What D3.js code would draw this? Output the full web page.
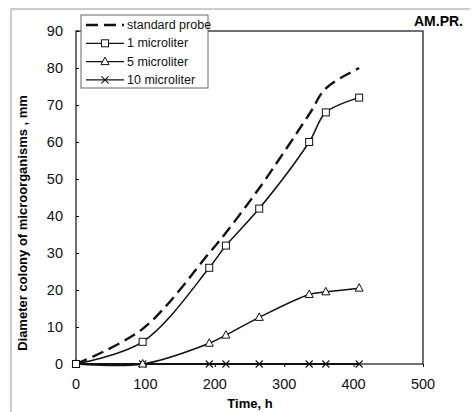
<!DOCTYPE html>
<html>
<head>
  <style>
    body { margin: 0; background: #fff; }
    svg text { font-family: "Liberation Sans", Arial, sans-serif; }
  </style>
</head>
<body>
  <script src="https://d3js.org/d3.v7.min.js"></script>
  <script>
// data
var hours = [0, 96, 192, 216, 264, 336, 360, 408];
var standardProbe = [0, 9.5, 30, 35.5, 47.5, 67.5, 74.5, 80];
var oneMicro = [0, 6, 26, 32, 42, 60, 68, 72];
var fiveMicro = [0, 0, 5.6, 7.8, 12.6, 18.8, 19.5, 20.5];
var tenMicro = [0, 0, 0, 0, 0, 0, 0, 0];
var xTicks = [0, 100, 200, 300, 400, 500];
var yTicks = [0, 10, 20, 30, 40, 50, 60, 70, 80, 90];
var seriesNames = ["standard probe", "1 microliter", "5 microliter", "10 microliter"];

var svg = d3.select("body")
  .append("svg")
  .attr("width", 473)
  .attr("height", 412);

// faint outer frame from the scan
svg.append("path")
  .attr("d", "M11,412 L11,9 L470,9")
  .attr("fill", "none")
  .attr("stroke", "#999")
  .attr("stroke-width", 1);

var x = d3.scaleLinear().domain([0, 500]).range([76, 423]);
var y = d3.scaleLinear().domain([0, 90]).range([364, 31]);

// plot frame
svg.append("rect")
  .attr("x", x(0))
  .attr("y", y(90))
  .attr("width", x(500) - x(0))
  .attr("height", y(0) - y(90))
  .attr("fill", "none")
  .attr("stroke", "#111")
  .attr("stroke-width", 1.2);

// axes
var yAxis = svg.append("g")
  .attr("transform", "translate(" + x(0) + ",0)")
  .call(d3.axisRight(y).tickValues(yTicks).tickSize(3).tickFormat(""));
yAxis.select(".domain").remove();

svg.selectAll(".ylab")
  .data(yTicks)
  .enter()
  .append("text")
  .attr("x", 63)
  .attr("y", function(d) { return y(d) + 5; })
  .attr("text-anchor", "end")
  .attr("font-size", 14.5)
  .attr("fill", "#111")
  .text(function(d) { return d; });

var xAxis = svg.append("g")
  .attr("transform", "translate(0," + y(0) + ")")
  .call(d3.axisBottom(x).tickValues(xTicks).tickSize(3).tickFormat(""));
xAxis.select(".domain").remove();

svg.selectAll(".xlab")
  .data(xTicks)
  .enter()
  .append("text")
  .attr("x", function(d) { return x(d); })
  .attr("y", 389)
  .attr("text-anchor", "middle")
  .attr("font-size", 14.5)
  .attr("fill", "#111")
  .text(function(d) { return d; });

// axis titles
svg.append("text")
  .attr("x", 250)
  .attr("y", 408)
  .attr("text-anchor", "middle")
  .attr("font-size", 13)
  .attr("font-weight", "bold")
  .text("Time, h");

svg.append("text")
  .attr("x", -223)
  .attr("y", 27)
  .attr("text-anchor", "middle")
  .attr("transform", "rotate(-90)")
  .attr("font-size", 13)
  .attr("font-weight", "bold")
  .text("Diameter colony of microorganisms , mm");

svg.append("text")
  .attr("x", 463)
  .attr("y", 26)
  .attr("text-anchor", "end")
  .attr("font-size", 14)
  .attr("font-weight", "bold")
  .text("AM.PR.");

// lines
function pts(vals) {
  return hours.map(function(h, i) { return [h, vals[i]]; });
}

var line = d3.line()
  .x(function(d) { return x(d[0]); })
  .y(function(d) { return y(d[1]); })
  .curve(d3.curveCatmullRom.alpha(0.5));

svg.append("path")
  .attr("d", line(pts(standardProbe)))
  .attr("fill", "none")
  .attr("stroke", "#111")
  .attr("stroke-width", 2.4)
  .attr("stroke-dasharray", "12,6");

[oneMicro, fiveMicro, tenMicro].forEach(function(vals, k) {
  svg.append("path")
    .attr("d", line(pts(vals)))
    .attr("fill", "none")
    .attr("stroke", "#111")
    .attr("stroke-width", k == 2 ? 2 : 1.5);
});

// markers
function drawMarker(g, kind, cx, cy) {
  if (kind == "square") {
    g.append("rect")
      .attr("x", cx - 3.5).attr("y", cy - 3.5)
      .attr("width", 7).attr("height", 7)
      .attr("fill", "#fff").attr("stroke", "#111").attr("stroke-width", 1);
  } else if (kind == "triangle") {
    g.append("path")
      .attr("d", "M" + cx + "," + (cy - 4.5) + " L" + (cx + 4) + "," + (cy + 3) + " L" + (cx - 4) + "," + (cy + 3) + "Z")
      .attr("fill", "#fff").attr("stroke", "#111").attr("stroke-width", 1);
  } else if (kind == "cross") {
    g.append("path")
      .attr("d", "M" + (cx - 3.5) + "," + (cy - 3.5) + " L" + (cx + 3.5) + "," + (cy + 3.5) + " M" + (cx - 3.5) + "," + (cy + 3.5) + " L" + (cx + 3.5) + "," + (cy - 3.5))
      .attr("fill", "none").attr("stroke", "#111").attr("stroke-width", 1.1);
  }
}

var markerSets = [[tenMicro, "cross"], [fiveMicro, "triangle"], [oneMicro, "square"]];
markerSets.forEach(function(m) {
  var g = svg.append("g");
  pts(m[0]).forEach(function(p) {
    drawMarker(g, m[1], x(p[0]), y(p[1]));
  });
});

// legend
var legend = svg.append("g");
legend.append("rect")
  .attr("x", 81).attr("y", 15)
  .attr("width", 127).attr("height", 73)
  .attr("fill", "#fff")
  .attr("stroke", "#666")
  .attr("stroke-width", 1);

var kinds = [null, "square", "triangle", "cross"];
seriesNames.forEach(function(name, i) {
  var ly = 25 + i * 18.3;
  var l = legend.append("line")
    .attr("x1", 86).attr("x2", 124)
    .attr("y1", ly).attr("y2", ly)
    .attr("stroke", "#111");
  if (i == 0) {
    l.attr("stroke-width", 2.4).attr("stroke-dasharray", "12,6");
  } else {
    l.attr("stroke-width", 1.3);
    drawMarker(legend, kinds[i], 105, ly);
  }
  legend.append("text")
    .attr("x", 127)
    .attr("y", ly + 4)
    .attr("font-size", 12.5)
    .attr("fill", "#111")
    .text(name);
});
  </script>
</body>
</html>
